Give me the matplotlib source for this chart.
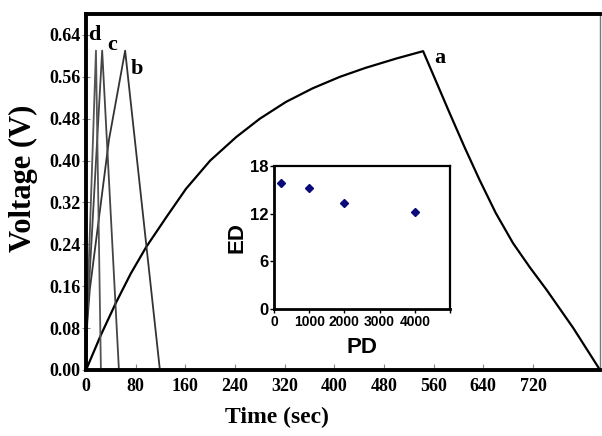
import matplotlib
matplotlib.use("Agg")
import matplotlib.pyplot as plt

# Curve a (charge/discharge)
a_t = [0, 24, 48, 72, 97, 130, 161, 200, 242, 280, 322, 365, 409, 450, 500, 543,
       560, 586, 610, 634, 660, 688, 715, 742, 785, 828]
a_v = [0, 0.067, 0.128, 0.184, 0.235, 0.293, 0.346, 0.400, 0.445, 0.480, 0.512, 0.538,
       0.560, 0.577, 0.595, 0.609,
       0.562, 0.490, 0.425, 0.363, 0.300, 0.242, 0.196, 0.153, 0.080, 0.0]
# Curve b
b_t = [0, 2, 6, 37, 63, 119]
b_v = [0, 0.09, 0.153, 0.44, 0.61, 0.0]
# Curve c
c_t = [0, 1, 26, 53]
c_v = [0, 0.08, 0.61, 0.0]
# Curve d
d_t = [0, 1, 16, 24]
d_v = [0, 0.08, 0.61, 0.0]

# Inset: ED vs PD
pd_vals = [200, 1000, 2000, 4000]
ed_vals = [15.9, 15.2, 13.3, 12.2]

x_ticks = [0, 80, 160, 240, 320, 400, 480, 560, 640, 720]
y_ticks = [0.00, 0.08, 0.16, 0.24, 0.32, 0.40, 0.48, 0.56, 0.64]
y_tick_labels = ["0.00", "0.08", "0.16", "0.24", "0.32", "0.40", "0.48", "0.56", "0.64"]
inset_xticks = [0, 1000, 2000, 3000, 4000, 5000]
inset_xlabels = ["0", "1000", "2000", "3000", "4000", ""]
inset_yticks = [0, 6, 12, 18]

serif = "Liberation Serif"
sans = "Liberation Sans"

fig = plt.figure(figsize=(6.02, 4.36), dpi=100)
ax = fig.add_axes([0.1429, 0.1514, 0.8538, 0.8165])

ax.plot(a_t, a_v, color="black", lw=1.6)
ax.plot(b_t, b_v, color="#333333", lw=1.3)
ax.plot(c_t, c_v, color="#444444", lw=1.3)
ax.plot(d_t, d_v, color="#555555", lw=1.3)

ax.set_xlim(0, 828)
ax.set_ylim(0, 0.68)
ax.set_xticks(x_ticks)
ax.set_yticks(y_ticks)
ax.set_yticklabels(y_tick_labels)
for lab in ax.get_xticklabels() + ax.get_yticklabels():
    lab.set_fontfamily(serif)
    lab.set_fontweight("bold")
    lab.set_fontsize(13)
ax.tick_params(axis="x", direction="in", length=4, width=0.8, color="#888888", pad=6)
ax.tick_params(axis="y", direction="inout", length=6, width=0.8, color="#888888", pad=1)

for side in ["left", "bottom", "top"]:
    ax.spines[side].set_linewidth(2.8)
ax.spines["right"].set_linewidth(1.0)
ax.spines["right"].set_color("#777777")

ax.set_xlabel("Time (sec)", fontfamily=serif, fontweight="bold", fontsize=17)
ax.xaxis.set_label_coords(0.372, -0.105)
ax.set_ylabel("Voltage (V)", fontfamily=serif, fontweight="bold", fontsize=22)
ax.yaxis.set_label_coords(-0.094, 0.539)

lab_kw = dict(fontfamily=serif, fontweight="bold", fontsize=16, ha="center", va="center")
ax.text(13, 0.64, "d", **lab_kw)
ax.text(42, 0.62, "c", **lab_kw)
ax.text(82, 0.575, "b", **lab_kw)
ax.text(570, 0.595, "a", **lab_kw)

# Inset
ins = fig.add_axes([0.4551, 0.2913, 0.2924, 0.3280])
ins.plot(pd_vals, ed_vals, linestyle="none", marker="D", markersize=4.5,
         color="#0a0a7a")
ins.set_xlim(0, 5000)
ins.set_ylim(0, 18)
ins.set_xticks(inset_xticks)
ins.set_xticklabels(inset_xlabels)
ins.set_yticks(inset_yticks)
for lab in ins.get_xticklabels():
    lab.set_fontfamily(sans)
    lab.set_fontweight("bold")
    lab.set_fontsize(10)
for lab in ins.get_yticklabels():
    lab.set_fontfamily(sans)
    lab.set_fontweight("bold")
    lab.set_fontsize(12)
ins.tick_params(axis="both", direction="out", length=3, width=1.0, pad=1)
for side in ["left", "bottom"]:
    ins.spines[side].set_linewidth(2.0)
for side in ["top", "right"]:
    ins.spines[side].set_linewidth(1.6)
ins.set_xlabel("PD", fontfamily=sans, fontweight="bold", fontsize=16, labelpad=6)
ins.set_ylabel("ED", fontfamily=sans, fontweight="bold", fontsize=16, labelpad=2)

fig.savefig("out.png", dpi=100, facecolor="white")
